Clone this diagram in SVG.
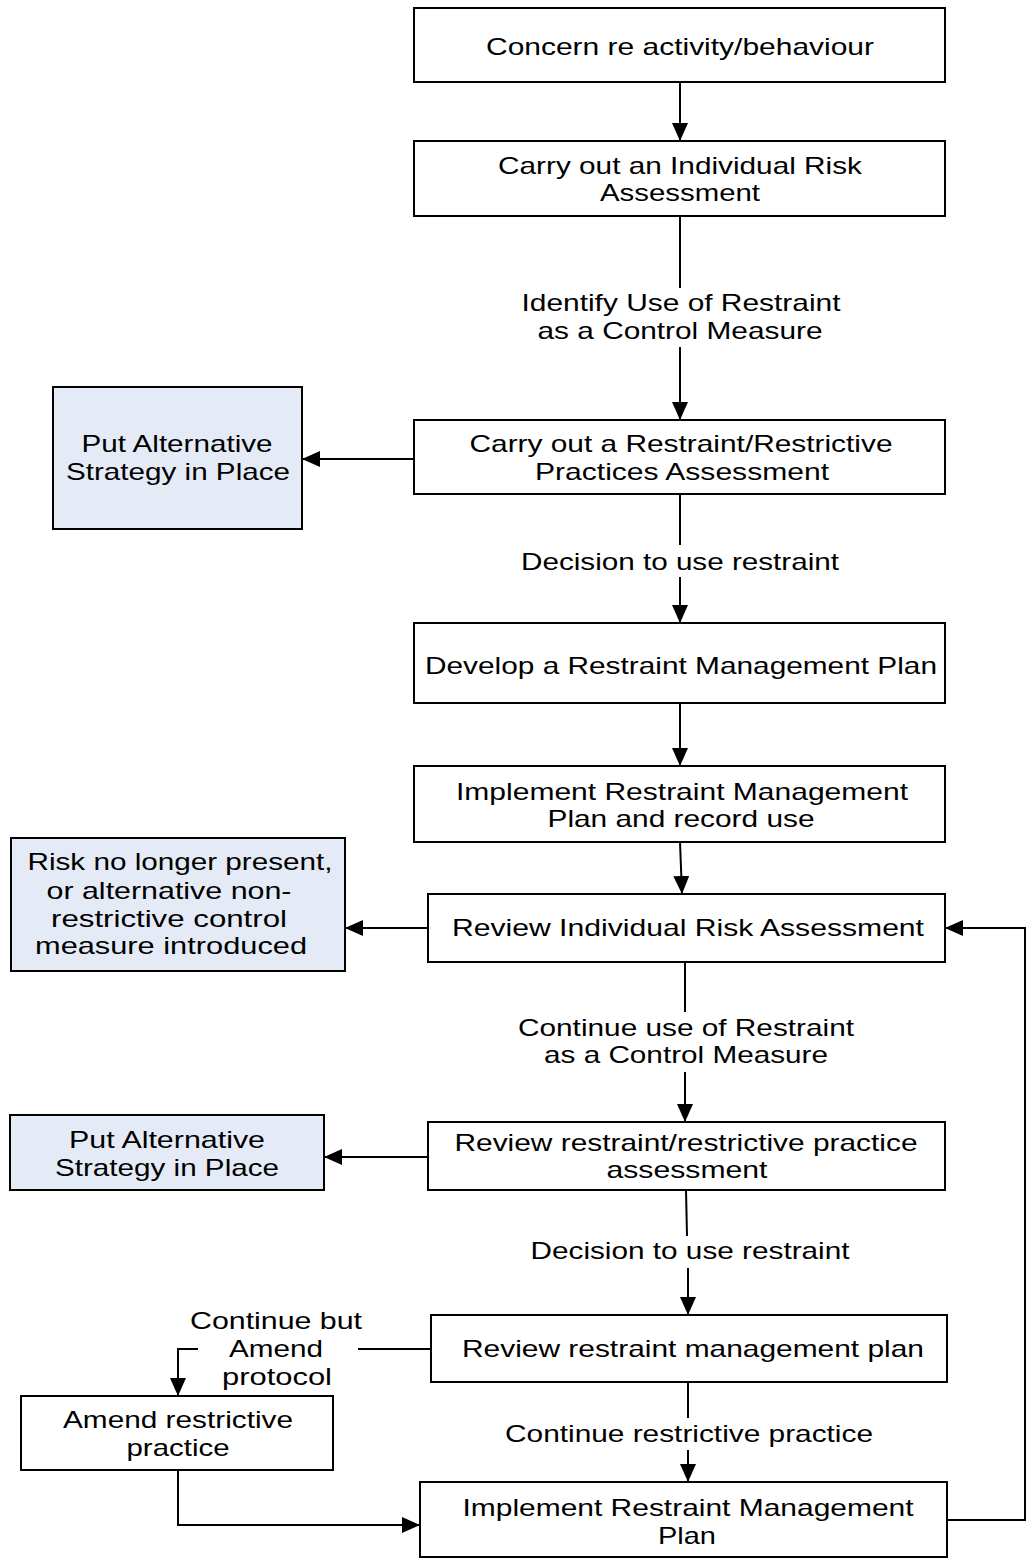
<svg xmlns="http://www.w3.org/2000/svg" width="1033" height="1561" viewBox="0 0 1033 1561">
<style>
.b{fill:#fff;stroke:#000;stroke-width:2}
.a{fill:#E5EBF6;stroke:#000;stroke-width:2}
text{font-family:"Liberation Sans",Arial,sans-serif;font-size:24px;fill:#000;text-anchor:middle}
.c{fill:none;stroke:#000;stroke-width:2}
</style>
<defs>
<marker id="ah" viewBox="0 0 18 16" refX="18" refY="8" markerWidth="18" markerHeight="16" orient="auto" markerUnits="userSpaceOnUse">
<path d="M0,0 L18,8 L0,16 Z" fill="#000"/>
</marker>
</defs>
<rect width="1033" height="1561" fill="#fff"/>
<g id="connectors">
<line class="c" x1="680" y1="82" x2="680" y2="141" marker-end="url(#ah)"/>
<line class="c" x1="680" y1="216" x2="680" y2="288"/>
<line class="c" x1="680" y1="347" x2="680" y2="420" marker-end="url(#ah)"/>
<text x="681" y="311" textLength="319" lengthAdjust="spacingAndGlyphs">Identify Use of Restraint</text>
<text x="680" y="339" textLength="285" lengthAdjust="spacingAndGlyphs">as a Control Measure</text>
<line class="c" x1="680" y1="494" x2="680" y2="545"/>
<line class="c" x1="680" y1="577" x2="680" y2="623" marker-end="url(#ah)"/>
<text x="680" y="570" textLength="318" lengthAdjust="spacingAndGlyphs">Decision to use restraint</text>
<line class="c" x1="680" y1="703" x2="680" y2="766" marker-end="url(#ah)"/>
<line class="c" x1="680" y1="842" x2="682" y2="894" marker-end="url(#ah)"/>
<line class="c" x1="685" y1="962" x2="685" y2="1012"/>
<line class="c" x1="685" y1="1072" x2="685" y2="1122" marker-end="url(#ah)"/>
<text x="686" y="1036" textLength="336" lengthAdjust="spacingAndGlyphs">Continue use of Restraint</text>
<text x="686" y="1063" textLength="284" lengthAdjust="spacingAndGlyphs">as a Control Measure</text>
<line class="c" x1="686" y1="1190" x2="687" y2="1236"/>
<line class="c" x1="688" y1="1268" x2="688" y2="1315" marker-end="url(#ah)"/>
<text x="690" y="1259" textLength="319" lengthAdjust="spacingAndGlyphs">Decision to use restraint</text>
<line class="c" x1="688" y1="1382" x2="688" y2="1418"/>
<line class="c" x1="688" y1="1450" x2="688" y2="1482" marker-end="url(#ah)"/>
<text x="689" y="1442" textLength="368" lengthAdjust="spacingAndGlyphs">Continue restrictive practice</text>
<line class="c" x1="414" y1="459" x2="302" y2="459" marker-end="url(#ah)"/>
<line class="c" x1="428" y1="928" x2="345" y2="928" marker-end="url(#ah)"/>
<line class="c" x1="428" y1="1157" x2="324" y2="1157" marker-end="url(#ah)"/>
<line class="c" x1="431" y1="1349" x2="358" y2="1349"/>
<text x="276" y="1329" textLength="172" lengthAdjust="spacingAndGlyphs">Continue but</text>
<text x="276" y="1357" textLength="94" lengthAdjust="spacingAndGlyphs">Amend</text>
<text x="277" y="1385" textLength="110" lengthAdjust="spacingAndGlyphs">protocol</text>
<polyline class="c" points="198,1349 178,1349 178,1396" marker-end="url(#ah)"/>
<polyline class="c" points="178,1470 178,1525 420,1525" marker-end="url(#ah)"/>
<polyline class="c" points="947,1520 1025,1520 1025,928 945,928" marker-end="url(#ah)"/>
</g>
<g id="n1"><rect class="b" x="414" y="8" width="531" height="74"/><text x="680" y="55" textLength="388" lengthAdjust="spacingAndGlyphs">Concern re activity/behaviour</text></g>
<g id="n2"><rect class="b" x="414" y="141" width="531" height="75"/><text x="680" y="174" textLength="364" lengthAdjust="spacingAndGlyphs">Carry out an Individual Risk</text><text x="680" y="201" textLength="160" lengthAdjust="spacingAndGlyphs">Assessment</text></g>
<g id="n3"><rect class="b" x="414" y="420" width="531" height="74"/><text x="681" y="452" textLength="423" lengthAdjust="spacingAndGlyphs">Carry out a Restraint/Restrictive</text><text x="682" y="480" textLength="294" lengthAdjust="spacingAndGlyphs">Practices Assessment</text></g>
<g id="n4"><rect class="a" x="53" y="387" width="249" height="142"/><text x="177" y="452" textLength="191" lengthAdjust="spacingAndGlyphs">Put Alternative</text><text x="178" y="480" textLength="224" lengthAdjust="spacingAndGlyphs">Strategy in Place</text></g>
<g id="n5"><rect class="b" x="414" y="623" width="531" height="80"/><text x="681" y="674" textLength="512" lengthAdjust="spacingAndGlyphs">Develop a Restraint Management Plan</text></g>
<g id="n6"><rect class="b" x="414" y="766" width="531" height="76"/><text x="682" y="800" textLength="452" lengthAdjust="spacingAndGlyphs">Implement Restraint Management</text><text x="681" y="827" textLength="267" lengthAdjust="spacingAndGlyphs">Plan and record use</text></g>
<g id="n7"><rect class="b" x="428" y="894" width="517" height="68"/><text x="688" y="936" textLength="472" lengthAdjust="spacingAndGlyphs">Review Individual Risk Assessment</text></g>
<g id="n8"><rect class="a" x="11" y="838" width="334" height="133"/><text x="180" y="870" textLength="305" lengthAdjust="spacingAndGlyphs">Risk no longer present,</text><text x="169" y="899" textLength="245" lengthAdjust="spacingAndGlyphs">or alternative non-</text><text x="169" y="927" textLength="236" lengthAdjust="spacingAndGlyphs">restrictive control</text><text x="171" y="954" textLength="272" lengthAdjust="spacingAndGlyphs">measure introduced</text></g>
<g id="n9"><rect class="b" x="428" y="1122" width="517" height="68"/><text x="686" y="1151" textLength="463" lengthAdjust="spacingAndGlyphs">Review restraint/restrictive practice</text><text x="687" y="1178" textLength="161" lengthAdjust="spacingAndGlyphs">assessment</text></g>
<g id="n10"><rect class="a" x="10" y="1115" width="314" height="75"/><text x="167" y="1148" textLength="196" lengthAdjust="spacingAndGlyphs">Put Alternative</text><text x="167" y="1176" textLength="224" lengthAdjust="spacingAndGlyphs">Strategy in Place</text></g>
<g id="n11"><rect class="b" x="431" y="1315" width="516" height="67"/><text x="693" y="1357" textLength="462" lengthAdjust="spacingAndGlyphs">Review restraint management plan</text></g>
<g id="n12"><rect class="b" x="21" y="1396" width="312" height="74"/><text x="178" y="1428" textLength="230" lengthAdjust="spacingAndGlyphs">Amend restrictive</text><text x="178" y="1456" textLength="103" lengthAdjust="spacingAndGlyphs">practice</text></g>
<g id="n13"><rect class="b" x="420" y="1482" width="527" height="75"/><text x="688" y="1516" textLength="451" lengthAdjust="spacingAndGlyphs">Implement Restraint Management</text><text x="687" y="1544" textLength="58" lengthAdjust="spacingAndGlyphs">Plan</text></g>
</svg>
